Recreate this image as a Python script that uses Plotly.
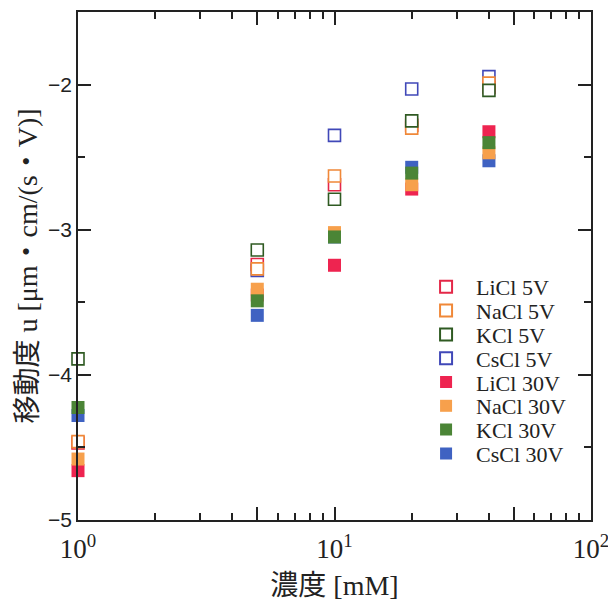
import plotly.graph_objects as go

conc = [1, 5, 10, 20, 40]

# 5 V (open markers)
licl_5v = [-4.47, -3.24, -2.69, -2.28, -2.02]
nacl_5v = [-4.46, -3.27, -2.63, -2.30, -1.99]
kcl_5v = [-3.89, -3.14, -2.79, -2.25, -2.04]
cscl_5v = [None, -3.28, -2.35, -2.03, -1.945]

# 30 V (filled markers)
licl_30v = [-4.66, -3.45, -3.245, -2.72, -2.325]
nacl_30v = [-4.58, -3.41, -3.02, -2.69, -2.47]
kcl_30v = [-4.225, -3.49, -3.05, -2.61, -2.40]
cscl_30v = [-4.28, -3.59, -3.05, -2.57, -2.525]

x_major = [1, 5, 10, 50, 100]
x_major_text = ["10<sup>0</sup>", "", "10<sup>1</sup>", "", "10<sup>2</sup>"]
x_minor = [2, 3, 4, 6, 7, 8, 9, 20, 30, 40, 60, 70, 80, 90]
y_major = [-5, -4, -3, -2]

# (name, values, colour, legend row)
open_series = [
    ("CsCl 5V", cscl_5v, "#4048b8", 3),
    ("LiCl 5V", licl_5v, "#e42848", 0),
    ("NaCl 5V", nacl_5v, "#f08838", 1),
    ("KCl 5V", kcl_5v, "#2f5a22", 2),
]
filled_series = [
    ("CsCl 30V", cscl_30v, "#3f62c2", 7),
    ("LiCl 30V", licl_30v, "#ee2450", 4),
    ("NaCl 30V", nacl_30v, "#f7a04c", 5),
    ("KCl 30V", kcl_30v, "#4b8536", 6),
]

def legend_id(row):
    return "legend" if row == 0 else f"legend{row + 1}"

fig = go.Figure()
for name, vals, col, row in filled_series:
    fig.add_trace(go.Scatter(
        x=conc, y=vals, mode="markers", name=name, legend=legend_id(row),
        cliponaxis=False,
        marker=dict(symbol="square", size=13, color=col, line=dict(width=0)),
    ))
for name, vals, col, row in open_series:
    fig.add_trace(go.Scatter(
        x=conc, y=vals, mode="markers", name=name, legend=legend_id(row),
        cliponaxis=False,
        marker=dict(symbol="square", size=12, color="white", line=dict(width=1.6, color=col)),
    ))

# page body has an 8px margin: figure area is 608x598 offset by (8, 8)
W, H = 608, 598
ml, mr, mt, mb = 70, 25, 4, 86
plot_top, plot_bottom = mt, H - mb
row0_y, row_step = 279, 23.8   # figure coords
legends = {}
for row in range(8):
    yc = row0_y + row * row_step
    legends[legend_id(row)] = dict(
        x=0.659, y=(plot_bottom - yc) / (plot_bottom - plot_top),
        xanchor="left", yanchor="middle",
        bgcolor="rgba(0,0,0,0)", borderwidth=0,
        font=dict(size=22, family="Liberation Serif", color="#222"),
        itemwidth=50, itemsizing="constant",
    )

fig.update_layout(
    width=W, height=H,
    margin=dict(l=ml, r=mr, t=mt, b=mb),
    paper_bgcolor="white", plot_bgcolor="white",
    font=dict(family="Liberation Serif, Noto Sans CJK JP", color="#222"),
    showlegend=True,
    **legends,
)
fig.update_xaxes(
    type="log", range=[0, 2], automargin=False,
    tickvals=x_major, ticktext=x_major_text,
    ticks="inside", ticklen=13, tickwidth=1.5, tickcolor="#222",
    minor=dict(tickvals=x_minor, ticks="inside", ticklen=7, tickwidth=1.5, tickcolor="#222"),
    showline=True, linecolor="#222", linewidth=1.5, mirror="ticks",
    showgrid=False, zeroline=False, ticklabelstandoff=4,
    tickfont=dict(family="Liberation Serif", size=27, color="#222"),
    title=dict(text="濃度 [mM]", font=dict(size=28, family="Liberation Serif, Noto Sans CJK JP"), standoff=12),
)
fig.update_yaxes(
    range=[-5, -1.5], automargin=False,
    tickvals=y_major,
    ticks="inside", ticklen=13, tickwidth=1.5, tickcolor="#222",
    minor=dict(dtick=0.5, ticks="inside", ticklen=7, tickwidth=1.5, tickcolor="#222"),
    showline=True, linecolor="#222", linewidth=1.5, mirror="ticks",
    showgrid=False, zeroline=False, ticklabelstandoff=0,
    tickfont=dict(family="Liberation Sans", size=21, color="#222"),
    title=dict(text="移動度 u [μm・cm/(s・V)]", font=dict(size=28, family="Liberation Serif, Noto Sans CJK JP"), standoff=2),
)

fig.write_html("out.html")
